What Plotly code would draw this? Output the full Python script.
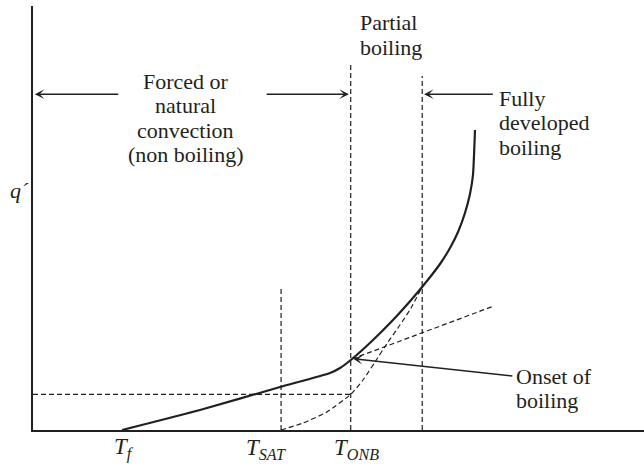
import plotly.graph_objects as go

# Heat flux vs wall temperature: convection, partial boiling, fully developed boiling
INK = "#231f20"
FONT = "Liberation Serif, Times New Roman, serif"

# Characteristic temperatures (arbitrary units along the wall-temperature axis)
t_f = 14.6
t_sat = 40.6
t_onb = 52.0
t_fdb = 63.7

# Actual boiling curve (wall temperature, heat flux)
curve_t = [14.57, 27.33, 40.43, 48.61, 50.25, 52.21, 55.48, 58.76, 62.03,
           64.48, 66.61, 68.25, 69.56, 70.70, 71.52, 72.01, 72.34]
curve_q = [0.0, 4.72, 10.14, 13.44, 14.62, 16.75, 20.99, 25.71, 30.90,
           35.14, 39.15, 42.92, 46.70, 51.18, 55.66, 60.14, 70.75]

# Fully developed boiling curve extrapolated back to T_SAT
fdb_t = [40.59, 44.19, 48.12, 52.05, 54.01, 55.97, 58.10, 60.07, 61.87, 63.67]
fdb_q = [0.0, 1.65, 4.25, 8.49, 11.79, 16.04, 20.75, 24.76, 28.77, 33.73]

# Single-phase convection line extended past onset of boiling
conv_t = [52.21, 75.45]
conv_q = [16.75, 29.25]

# Heat flux level where the extrapolated boiling curve crosses T_ONB
q_level = 8.40

# Upper ends of the vertical guide lines
sat_top = 33.5
onb_top = 86.8
fdb_top = 83.5

# Height of the region arrows
arrow_q = 79.2

fig = go.Figure()

guide = dict(color=INK, width=1.2, dash="5px,3px")

# Vertical guides at T_SAT, T_ONB and the start of fully developed boiling
fig.add_trace(go.Scatter(x=[t_sat, t_sat], y=[0, sat_top], mode="lines", line=guide))
fig.add_trace(go.Scatter(x=[t_onb, t_onb], y=[0, onb_top], mode="lines", line=guide))
fig.add_trace(go.Scatter(x=[t_fdb, t_fdb], y=[0, fdb_top], mode="lines", line=guide))
# Horizontal guide to the heat flux at T_ONB
fig.add_trace(go.Scatter(x=[0, t_onb], y=[q_level, q_level], mode="lines", line=guide))
# Extrapolated boiling curve and extended convection line
fig.add_trace(go.Scatter(x=fdb_t, y=fdb_q, mode="lines",
                         line=dict(color=INK, width=1.2, dash="5px,3px",
                                   shape="spline", smoothing=0.5)))
fig.add_trace(go.Scatter(x=conv_t, y=conv_q, mode="lines", line=guide))
# Actual boiling curve
fig.add_trace(go.Scatter(x=curve_t, y=curve_q, mode="lines",
                         line=dict(color=INK, width=2.2, shape="spline", smoothing=0.5)))

annotations = []


def arrow(x_head, y_head, x_tail, y_tail):
    annotations.append(dict(
        x=x_head, y=y_head, ax=x_tail, ay=y_tail, xref="x", yref="y",
        axref="x", ayref="y", text="", showarrow=True, arrowhead=3,
        arrowsize=1.15, arrowwidth=1.4, arrowcolor=INK, standoff=0, startstandoff=0,
    ))


# Region arrows
arrow(0.3, arrow_q, 14.2, arrow_q)
arrow(51.7, arrow_q, 38.0, arrow_q)
arrow(64.0, arrow_q, 75.5, arrow_q)
# Onset of boiling pointer
arrow(52.4, 16.8, 78.7, 12.7)


def block(x, y_first, lines, xanchor="center", step=5.8, size=22):
    # one annotation per text line keeps the line spacing tight
    for i, line in enumerate(lines):
        annotations.append(dict(
            x=x, y=y_first - i * step, xref="x", yref="y", text=line,
            showarrow=False, xanchor=xanchor, yanchor="middle",
            font=dict(family=FONT, size=size, color=INK),
        ))


block(25.0, 82.3, ["Forced or", "natural", "convection", "(non boiling)"])
block(53.2, 96.0, ["Partial", "boiling"], xanchor="left")
block(76.0, 78.3, ["Fully", "developed", "boiling"], xanchor="left")
block(78.8, 12.7, ["Onset of", "boiling"], xanchor="left")


def paper_label(x, y, text, xanchor="left", size=22):
    annotations.append(dict(
        x=x, y=y, xref="paper", yref="paper", text=text, showarrow=False,
        xanchor=xanchor, yanchor="middle",
        font=dict(family=FONT, size=size, color=INK, style="italic"),
    ))


# Axis title
paper_label(-0.022, 0.566, "q´", xanchor="center")

# Temperature labels under the axis
paper_label(0.130, -0.044, "T<sub>f</sub>", size=23)
paper_label(0.345, -0.044, "T<sub>SAT</sub>", size=23)
paper_label(0.489, -0.044, "T<sub>ONB</sub>", size=23)

axis = dict(showline=True, linecolor=INK, linewidth=1.5, showgrid=False,
            zeroline=False, ticks="", showticklabels=False, fixedrange=True)

fig.update_layout(
    width=644, height=468,
    margin=dict(l=33, r=0, t=6, b=38),
    paper_bgcolor="white", plot_bgcolor="white",
    showlegend=False, hovermode=False,
    xaxis=dict(range=[0, 100], **axis),
    yaxis=dict(range=[0, 100], **axis),
    annotations=annotations,
)

fig.write_html("out.html")
